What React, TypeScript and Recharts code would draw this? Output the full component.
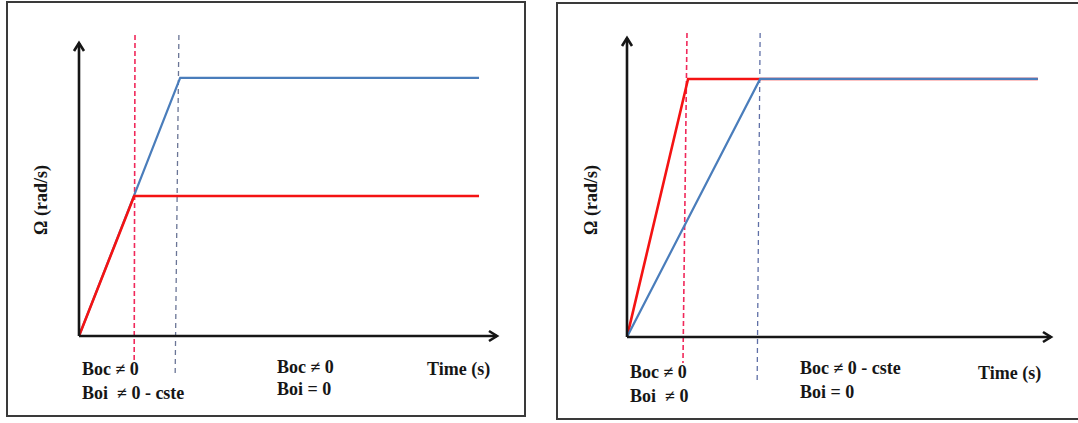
import { Line, LineChart, ReferenceLine, XAxis, YAxis } from "recharts";

// time (arbitrary units, 0..100 across the x axis) / speed (0..100 up the y axis)
const leftRedTime = [0, 13.2, 95.7];
const leftRedSpeed = [0, 47.8, 47.8];
const leftBlueTime = [0, 24.2, 95.7];
const leftBlueSpeed = [0, 88.1, 88.1];

const rightRedTime = [0, 14.4, 96.9];
const rightRedSpeed = [0, 86.3, 86.3];
const rightBlueTime = [0, 31.4, 96.9];
const rightBlueSpeed = [0, 86.3, 86.3];

// dashed phase markers: [time at top, time at bottom, speed at top, speed at bottom]
const leftRedMarker = [13.4, 13.2, 102.7, -8.2];
const leftBlueMarker = [23.9, 23.0, 102.7, -14.0];
const rightRedMarker = [14.15, 13.2, 101.7, -8.7];
const rightBlueMarker = [31.4, 30.7, 101.7, -14.4];

const yLabel = "Ω (rad/s)";
const xLabel = "Time (s)";
const leftPhase1 = ["Boc ≠ 0", "Boi  ≠ 0 - cste"];
const leftPhase2 = ["Boc ≠ 0", "Boi = 0"];
const rightPhase1 = ["Boc ≠ 0", "Boi  ≠ 0"];
const rightPhase2 = ["Boc ≠ 0 - cste", "Boi = 0"];

const RED = "#f41313";
const BLUE = "#4a7dbb";
const INK = "#161616";
const FONT = "'Liberation Serif', 'Times New Roman', serif";

function toPoints(time: number[], speed: number[]) {
  return time.map((t, i) => ({ t, w: speed[i] }));
}

function ArrowAxis(props: any) {
  const { x1, y1, x2, y2 } = props;
  const dx = x2 - x1;
  const dy = y2 - y1;
  const len = Math.hypot(dx, dy) || 1;
  const ux = dx / len;
  const uy = dy / len;
  const px = -uy;
  const py = ux;
  const head = 8;
  const half = 5;
  const bx = x2 - ux * head;
  const by = y2 - uy * head;
  return (
    <g>
      <line x1={x1} y1={y1} x2={x2} y2={y2} stroke={INK} strokeWidth={2.6} />
      <path
        d={`M${bx + px * half},${by + py * half} L${x2},${y2} L${bx - px * half},${by - py * half}`}
        fill="none"
        stroke={INK}
        strokeWidth={2.6}
      />
    </g>
  );
}

type PanelProps = {
  width: number;
  height: number;
  margin: { top: number; left: number; right: number; bottom: number };
  red: { t: number; w: number }[];
  blue: { t: number; w: number }[];
  redMarker: number[];
  blueMarker: number[];
  markerRed: string;
  markerBlue: string;
  redOnTop: boolean;
};

function Panel({ width, height, margin, red, blue, redMarker, blueMarker, markerRed, markerBlue, redOnTop }: PanelProps) {
  const redLine = (
    <Line
      key="red"
      data={red}
      dataKey="w"
      type="linear"
      stroke={RED}
      strokeWidth={2.6}
      dot={false}
      isAnimationActive={false}
    />
  );
  const blueLine = (
    <Line
      key="blue"
      data={blue}
      dataKey="w"
      type="linear"
      stroke={BLUE}
      strokeWidth={2.2}
      dot={false}
      isAnimationActive={false}
    />
  );
  return (
    <LineChart width={width} height={height} margin={margin}>
      <XAxis dataKey="t" type="number" domain={[0, 100]} hide allowDataOverflow />
      <YAxis dataKey="w" type="number" domain={[0, 100]} hide allowDataOverflow />
      <ReferenceLine
        segment={[
          { x: redMarker[0], y: redMarker[2] },
          { x: redMarker[1], y: redMarker[3] },
        ]}
        ifOverflow="visible"
        stroke={markerRed}
        strokeWidth={1.6}
        strokeDasharray="5 3"
      />
      <ReferenceLine
        segment={[
          { x: blueMarker[0], y: blueMarker[2] },
          { x: blueMarker[1], y: blueMarker[3] },
        ]}
        ifOverflow="visible"
        stroke={markerBlue}
        strokeWidth={1.3}
        strokeDasharray="5 4"
      />
      {redOnTop ? blueLine : redLine}
      {redOnTop ? redLine : blueLine}
      <ReferenceLine
        segment={[
          { x: 0, y: 0 },
          { x: 100, y: 0 },
        ]}
        ifOverflow="visible"
        shape={ArrowAxis}
      />
      <ReferenceLine
        segment={[
          { x: 0, y: 0 },
          { x: 0, y: 100 },
        ]}
        ifOverflow="visible"
        shape={ArrowAxis}
      />
    </LineChart>
  );
}

function TwoLines({ x, y, gap, lines }: { x: number; y: number; gap: number; lines: string[] }) {
  return (
    <text x={x} y={y} style={{ whiteSpace: "pre" }}>
      {lines.map((line, i) => (
        <tspan key={i} x={x} y={y + i * gap}>
          {line}
        </tspan>
      ))}
    </text>
  );
}

export default function App() {
  return (
    <div style={{ position: "relative", width: 1078, height: 423, background: "#fff", overflow: "hidden" }}>
      <style>{"body{margin:0}"}</style>
      <div
        style={{
          position: "absolute",
          left: 6,
          top: 1,
          width: 520,
          height: 416,
          border: "2px solid #3a3a3a",
          boxSizing: "border-box",
        }}
      />
      <div
        style={{
          position: "absolute",
          left: 556,
          top: 2,
          width: 530,
          height: 418,
          border: "2px solid #3a3a3a",
          boxSizing: "border-box",
        }}
      />
      <div style={{ position: "absolute", left: 0, top: 0 }}>
        <Panel
          width={540}
          height={423}
          margin={{ top: 43, left: 79, right: 43, bottom: 87 }}
          red={toPoints(leftRedTime, leftRedSpeed)}
          blue={toPoints(leftBlueTime, leftBlueSpeed)}
          redMarker={leftRedMarker}
          blueMarker={leftBlueMarker}
          markerRed="#f0285a"
          markerBlue="#6a7596"
          redOnTop
        />
      </div>
      <div style={{ position: "absolute", left: 540, top: 0 }}>
        <Panel
          width={538}
          height={423}
          margin={{ top: 38, left: 87, right: 27, bottom: 86 }}
          red={toPoints(rightRedTime, rightRedSpeed)}
          blue={toPoints(rightBlueTime, rightBlueSpeed)}
          redMarker={rightRedMarker}
          blueMarker={rightBlueMarker}
          markerRed="#f0285a"
          markerBlue="#5f6fa6"
          redOnTop={false}
        />
      </div>
      <svg
        width={1078}
        height={423}
        style={{ position: "absolute", left: 0, top: 0, pointerEvents: "none" }}
        fontFamily={FONT}
        fontWeight="bold"
        fontSize={18}
        fill={INK}
      >
        <text x={47} y={200} textAnchor="middle" transform="rotate(-90 47 200)">
          {yLabel}
        </text>
        <TwoLines x={82} y={375} gap={24} lines={leftPhase1} />
        <TwoLines x={277} y={373} gap={22} lines={leftPhase2} />
        <text x={427} y={375}>
          {xLabel}
        </text>

        <text x={597} y={200} textAnchor="middle" transform="rotate(-90 597 200)">
          {yLabel}
        </text>
        <TwoLines x={630} y={378} gap={24} lines={rightPhase1} />
        <TwoLines x={800} y={374} gap={24} lines={rightPhase2} />
        <text x={978} y={379}>
          {xLabel}
        </text>
      </svg>
    </div>
  );
}
